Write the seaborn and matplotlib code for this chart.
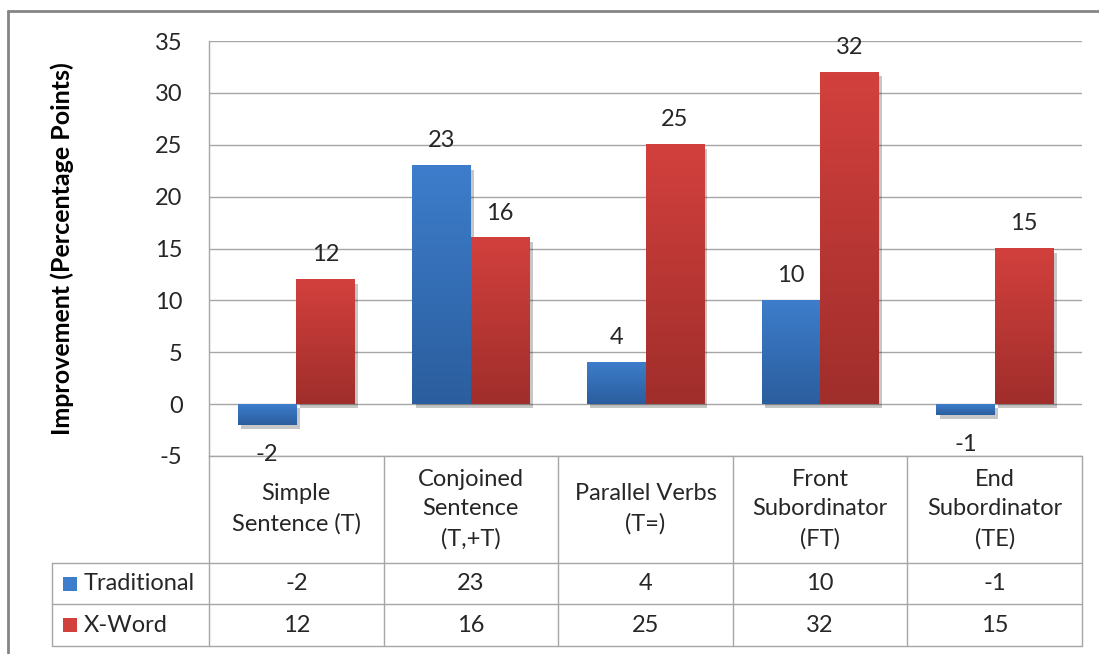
import numpy as np
import pandas as pd
import matplotlib.pyplot as plt
import matplotlib.patheffects as pe
from matplotlib.colors import LinearSegmentedColormap
from matplotlib.lines import Line2D
from matplotlib.patches import Rectangle
import seaborn as sns

# chart data
categories = ["Simple\nSentence (T)", "Conjoined\nSentence\n(T,+T)", "Parallel Verbs\n(T=)",
              "Front\nSubordinator\n(FT)", "End\nSubordinator\n(TE)"]
series_names = ["Traditional", "X-Word"]
traditional = [-2, 23, 4, 10, -1]
xword = [12, 16, 25, 32, 15]
y_ticks = [-5, 0, 5, 10, 15, 20, 25, 30, 35]

df = pd.DataFrame({
    "category": categories * 2,
    "series": [series_names[0]] * len(categories) + [series_names[1]] * len(categories),
    "value": traditional + xword,
})

sns.set_style("white")
plt.rcParams['font.family'] = ['Lato', 'DejaVu Sans']
plt.rcParams['axes.unicode_minus'] = False
TXT = "#262626"
GRID = "#a6a6a6"
FS = 17

# gradient colours (top light -> bottom dark)
blue_top, blue_bot = "#3d7dcb", "#2b5e9e"
red_top, red_bot = "#d2403d", "#a02e2b"

W, H = 1099, 654
fig = plt.figure(figsize=(W / 100, H / 100), dpi=100)
ax = fig.add_axes([209 / W, 1 - 456 / H, 873 / W, 415 / H])

sns.barplot(data=df, x="category", y="value", hue="series", order=categories,
            hue_order=series_names, palette=[blue_bot, red_bot], width=0.67,
            saturation=1, legend=False, ax=ax, linewidth=0)

ax.set_xlim(-0.5, len(categories) - 0.5)
ax.set_ylim(y_ticks[0], y_ticks[-1])
ax.set_yticks(y_ticks)
ax.set_axisbelow(True)
ax.yaxis.grid(True, color=GRID, lw=1)
ax.set_xticks([])
ax.set_xlabel("")
ax.set_ylabel("Improvement (Percentage Points)", fontsize=18, fontweight="bold",
              color="black", labelpad=58)
ax.tick_params(axis="y", length=0, pad=19, labelsize=FS, labelcolor=TXT)
for s in ["top", "right"]:
    ax.spines[s].set_visible(False)
for s in ["left", "bottom"]:
    ax.spines[s].set_color(GRID)
    ax.spines[s].set_linewidth(1)

# gradient fill + shadow on each bar, value labels outside the bar end
grad = np.linspace(0, 1, 100).reshape(-1, 1)
cmaps = [LinearSegmentedColormap.from_list("b", [blue_bot, blue_top]),
         LinearSegmentedColormap.from_list("r", [red_bot, red_top])]
for cont, cm, vals in zip(ax.containers, cmaps, [traditional, xword]):
    for p, v in zip(cont.patches, vals):
        x0, y0 = p.get_x(), p.get_y()
        w, h = p.get_width(), p.get_height()
        p.set_path_effects([pe.SimplePatchShadow(offset=(2.5, -3), shadow_rgbFace="k", alpha=0.22),
                            pe.Normal()])
        ax.imshow(grad, extent=(x0, x0 + w, min(y0, y0 + h), max(y0, y0 + h)),
                  origin="lower", cmap=cm, aspect="auto", interpolation="bicubic",
                  zorder=p.get_zorder() + 0.01)
        off = 18 if v >= 0 else -21.5
        ax.annotate(str(v), xy=(x0 + w / 2, y0 + h), xytext=(0, off), textcoords="offset points",
                    ha="center", va="center", fontsize=FS, color=TXT, annotation_clip=False)

ax.set_xlim(-0.5, len(categories) - 0.5)
ax.set_ylim(y_ticks[0], y_ticks[-1])

# data table under the plot
col_w = 873 / len(categories)
left_units = -0.5 - (209 - 52) / col_w
tab = fig.add_axes([52 / W, 1 - 646 / H, (1082 - 52) / W, 190 / H])
tab.set_xlim(left_units, len(categories) - 0.5)
tab.set_ylim(190, 0)
tab.axis("off")

row_edges = [0, 107, 148, 190]
lk = dict(color=GRID, lw=1, clip_on=False)
for i in range(len(categories) + 1):
    tab.plot([i - 0.5, i - 0.5], [0, 190], **lk)
for y in row_edges[1:]:
    tab.plot([left_units, len(categories) - 0.5], [y, y], **lk)
tab.plot([left_units, left_units], [107, 190], **lk)

for i, c in enumerate(categories):
    tab.text(i, 53, c, ha="center", va="center", fontsize=FS, color=TXT,
             linespacing=1.5)
for r, (name, vals, col) in enumerate(zip(series_names, [traditional, xword], [blue_top, red_top])):
    yc = (row_edges[r + 1] + row_edges[r + 2]) / 2
    for i, v in enumerate(vals):
        tab.text(i, yc, str(v), ha="center", va="center", fontsize=FS, color=TXT)
    sq = 14 / col_w
    tab.add_patch(Rectangle((left_units + 11 / col_w, yc - 7), sq, 14,
                            facecolor=col, edgecolor="none", clip_on=False))
    tab.text(left_units + 32 / col_w, yc, name, ha="left", va="center", fontsize=FS, color=TXT)

# outer chart border (left and top visible)
fig.add_artist(Line2D([8 / W, 8 / W], [0, 1 - 11 / H], color="#858585", lw=2))
fig.add_artist(Line2D([8 / W, 1], [1 - 11 / H, 1 - 11 / H], color="#858585", lw=2))

fig.savefig("out.png", dpi=100)
